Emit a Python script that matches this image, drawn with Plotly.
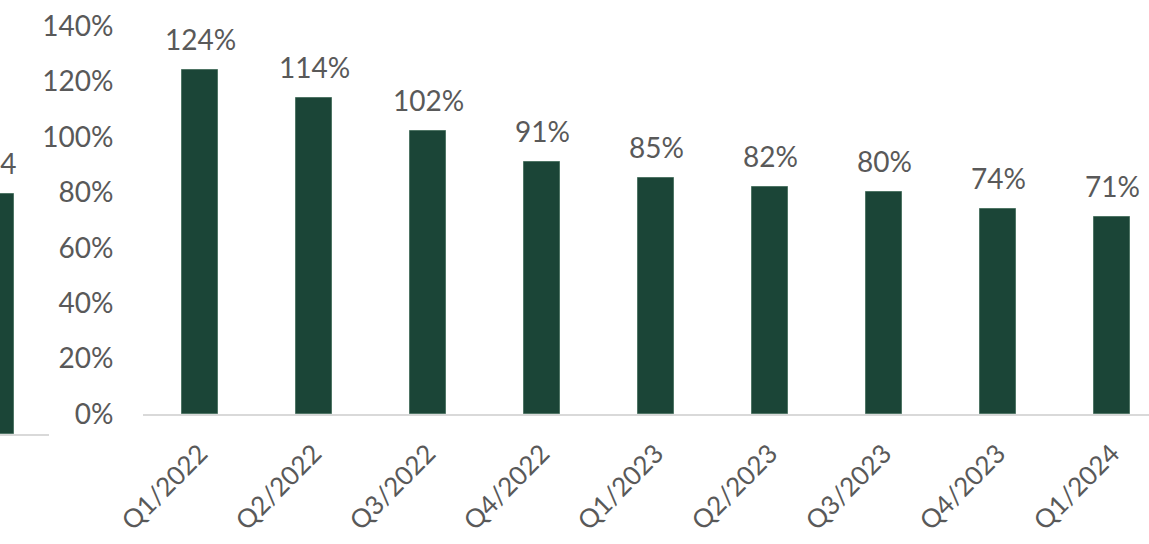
import plotly.graph_objects as go

# Quarterly ratio series
quarters = ["Q1/2022", "Q2/2022", "Q3/2022", "Q4/2022", "Q1/2023",
            "Q2/2023", "Q3/2023", "Q4/2023", "Q1/2024"]
ratios = [1.24, 1.14, 1.02, 0.91, 0.85, 0.82, 0.80, 0.74, 0.71]
y_ticks = [0, 0.2, 0.4, 0.6, 0.8, 1.0, 1.2, 1.4]

# Edge panel (neighbouring chart, mostly outside the frame)
edge_values = [84]
edge_labels = ["84"]

W, H = 1149, 544
BAR = "#1b4537"
TXT = "#595959"
FONT = "Lato"
FS = 28

x_idx = list(range(len(quarters)))

fig = go.Figure()

fig.add_trace(go.Bar(
    x=x_idx, y=ratios, width=0.312,
    marker=dict(color=BAR, line=dict(color="#4f7565", width=1)),
    xaxis="x", yaxis="y", showlegend=False, hoverinfo="skip",
))

fig.add_trace(go.Bar(
    x=[0], y=edge_values, width=0.24,
    marker=dict(color=BAR, line=dict(color="#4f7565", width=1)),
    xaxis="x2", yaxis="y2", showlegend=False, hoverinfo="skip",
))

# value labels above the bars
for xi, v in zip(x_idx, ratios):
    fig.add_annotation(
        x=xi, y=v, xref="x", yref="y", text=f"{round(v * 100)}%",
        showarrow=False, yanchor="bottom", yshift=12,
        font=dict(family=FONT, size=FS, color=TXT),
    )

# label of the edge-panel bar
for xi, v, t in zip([0], edge_values, edge_labels):
    fig.add_annotation(
        x=xi, y=v, xref="x2", yref="y2", text=t,
        showarrow=False, yanchor="bottom", yshift=12,
        font=dict(family=FONT, size=FS, color=TXT),
    )

left_px, top_px, bottom_px = 143, 26, 414
right_range = 8.5 - 20 / 114

fig.update_layout(
    width=W, height=H,
    margin=dict(l=0, r=0, t=0, b=0, autoexpand=False),
    paper_bgcolor="white", plot_bgcolor="white",
    bargap=0,
    xaxis=dict(
        domain=[left_px / W, 1], range=[-0.5, right_range],
        tickmode="array", tickvals=x_idx, ticktext=quarters,
        tickangle=-45, showgrid=False, zeroline=False, automargin=False,
        showline=True, linecolor="#d9d9d9", linewidth=2,
        ticks="outside", ticklen=12, tickcolor="rgba(0,0,0,0)",
        tickfont=dict(family=FONT, size=26, color=TXT),
    ),
    yaxis=dict(
        domain=[1 - bottom_px / H, 1 - top_px / H], range=[0, 1.4],
        tickmode="array", tickvals=y_ticks, tickformat=".0%",
        showgrid=False, zeroline=False, showline=False, automargin=False,
        ticks="outside", ticklen=23, tickcolor="rgba(0,0,0,0)",
        tickfont=dict(family=FONT, size=FS, color=TXT),
    ),
    xaxis2=dict(
        domain=[0, 49 / W], range=[0, 49 / 114],
        showticklabels=False, showgrid=False, zeroline=False, automargin=False,
        showline=True, linecolor="#d9d9d9", linewidth=2, anchor="y2",
    ),
    yaxis2=dict(
        domain=[1 - 434 / H, 1 - top_px / H], range=[0, 84 * 408 / 240],
        showticklabels=False, showgrid=False, zeroline=False, automargin=False,
        showline=False, anchor="x2",
    ),
)

fig.write_html("out.html")
